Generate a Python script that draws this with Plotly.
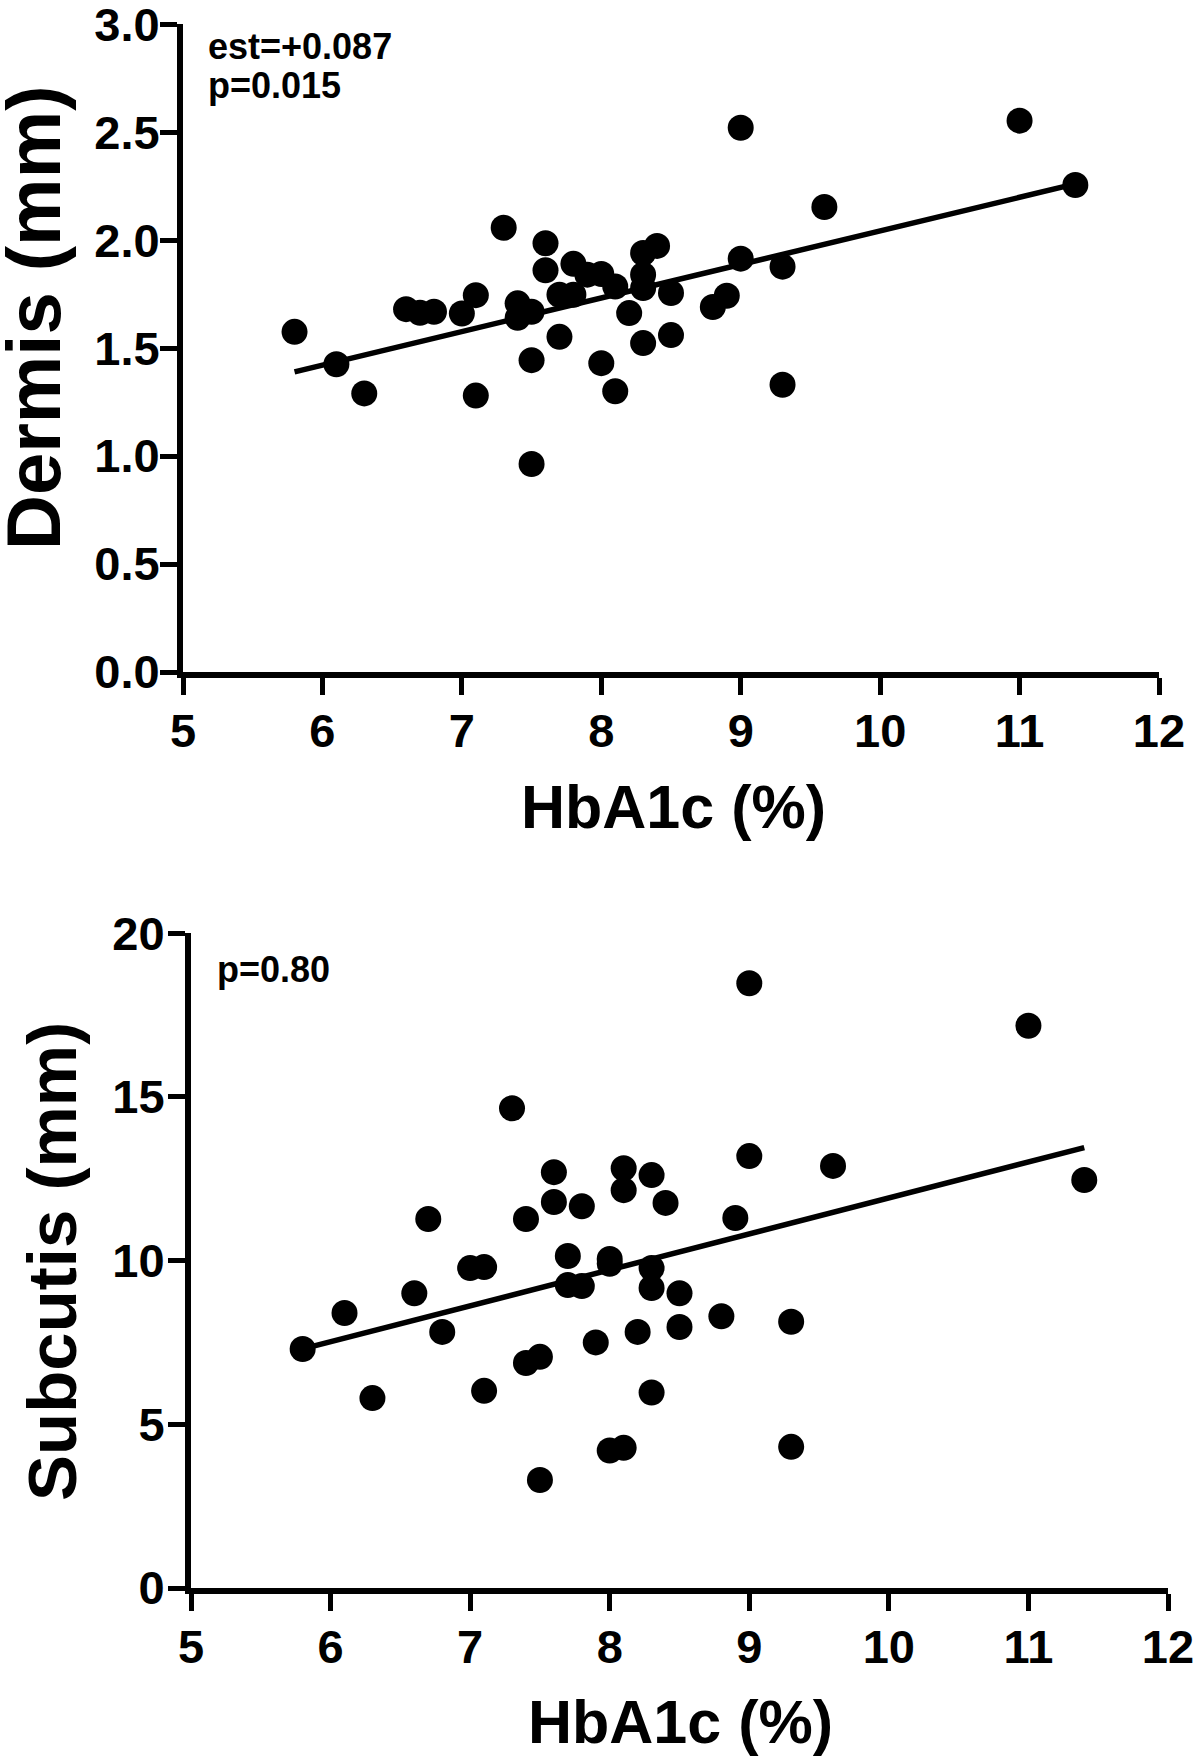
import plotly.graph_objects as go

# ---- Data ----
hba1c_top = [5.8, 6.1, 6.3, 6.6, 6.7, 6.8, 7.0, 7.1, 7.1, 7.3, 7.4, 7.4, 7.5, 7.5, 7.5,
             7.6, 7.6, 7.7, 7.7, 7.8, 7.8, 7.9, 8.0, 8.0, 8.1, 8.1, 8.2, 8.3, 8.3, 8.3,
             8.3, 8.4, 8.5, 8.5, 8.8, 8.9, 9.0, 9.0, 9.3, 9.3, 9.6, 11.0, 11.4]
dermis = [1.575, 1.425, 1.29, 1.68, 1.663, 1.668, 1.66, 1.745, 1.28, 2.057, 1.707, 1.64,
          1.668, 1.444, 0.963, 1.985, 1.86, 1.747, 1.552, 1.89, 1.747, 1.84, 1.843, 1.43,
          1.785, 1.30, 1.662, 1.94, 1.84, 1.778, 1.523, 1.973, 1.755, 1.56, 1.69, 1.742,
          2.52, 1.914, 1.877, 1.33, 2.153, 2.553, 2.255]
fit_top_x = [5.8, 11.4]
fit_top_y = [1.39, 2.26]

hba1c_bot = [5.8, 6.1, 6.3, 6.6, 6.7, 6.8, 7.0, 7.1, 7.1, 7.3, 7.4, 7.4, 7.5, 7.5,
             7.6, 7.6, 7.7, 7.7, 7.8, 7.8, 7.9, 8.0, 8.0, 8.0, 8.1, 8.1, 8.1, 8.2,
             8.3, 8.3, 8.3, 8.3, 8.4, 8.5, 8.5, 8.8, 8.9, 9.0, 9.0, 9.3, 9.3, 9.6,
             11.0, 11.4]
subcutis = [7.3, 8.4, 5.8, 9.0, 11.27, 7.82, 9.77, 9.8, 6.02, 14.65, 11.27, 6.87, 7.06, 3.3,
            12.7, 11.79, 10.14, 9.25, 11.66, 9.22, 7.5, 10.05, 9.9, 4.2, 12.82, 12.15, 4.28,
            7.82, 12.61, 9.77, 9.16, 5.97, 11.76, 9.0, 7.97, 8.3, 11.3, 18.47, 13.19, 8.13,
            4.31, 12.89, 17.17, 12.46]
fit_bot_x = [5.8, 11.4]
fit_bot_y = [7.3, 13.45]

x_ticks = [5, 6, 7, 8, 9, 10, 11, 12]
top_y_ticks = [0.0, 0.5, 1.0, 1.5, 2.0, 2.5, 3.0]
bot_y_ticks = [0, 5, 10, 15, 20]

W, H = 1200, 1758
FONT = "Liberation Sans, Arial, sans-serif"


def fx(px):
    return px / W


def fy(py):
    return 1 - py / H


fig = go.Figure()

marker = dict(color="black", size=26, line=dict(width=0))
fig.add_trace(go.Scatter(x=hba1c_top, y=dermis, mode="markers", marker=marker,
                         cliponaxis=False, xaxis="x", yaxis="y", showlegend=False,
                         hoverinfo="skip"))
fig.add_trace(go.Scatter(x=fit_top_x, y=fit_top_y, mode="lines",
                         line=dict(color="black", width=5.5),
                         cliponaxis=False, xaxis="x", yaxis="y", showlegend=False,
                         hoverinfo="skip"))
fig.add_trace(go.Scatter(x=hba1c_bot, y=subcutis, mode="markers", marker=marker,
                         cliponaxis=False, xaxis="x2", yaxis="y2", showlegend=False,
                         hoverinfo="skip"))
fig.add_trace(go.Scatter(x=fit_bot_x, y=fit_bot_y, mode="lines",
                         line=dict(color="black", width=5.5),
                         cliponaxis=False, xaxis="x2", yaxis="y2", showlegend=False,
                         hoverinfo="skip"))

tickfont = dict(family=FONT, size=47, color="black", weight="bold")
common = dict(showline=True, linecolor="black", linewidth=6, ticks="outside",
              ticklen=17, tickwidth=5, tickcolor="black", showgrid=False,
              zeroline=False, tickfont=tickfont, automargin=False, fixedrange=True,
              ticklabeloverflow="allow")

fig.update_layout(
    width=W, height=H,
    margin=dict(l=0, r=0, t=0, b=0),
    paper_bgcolor="white", plot_bgcolor="white",
    xaxis=dict(domain=[fx(183), fx(1159)], range=[5, 12], tickvals=x_ticks,
               anchor="y", ticklabelstandoff=-4, **common),
    yaxis=dict(domain=[fy(672), fy(24)], range=[0, 3.0005], tickvals=top_y_ticks,
               tickformat=".1f", anchor="x", ticklabelstandoff=-9, **common),
    xaxis2=dict(domain=[fx(191), fx(1168)], range=[5, 12], tickvals=x_ticks,
                anchor="y2", ticklabelstandoff=-4, **common),
    yaxis2=dict(domain=[fy(1588), fy(933)], range=[0, 20.003], tickvals=bot_y_ticks,
                anchor="x2", ticklabelstandoff=-6, **common),
)

title_font = dict(family=FONT, size=61, color="black", weight="bold")
note_font = dict(family=FONT, size=36, color="black", weight="bold")

annotations = [
    dict(text="HbA1c (%)", x=fx(673), y=fy(807), font=title_font,
         xanchor="center", yanchor="middle"),
    dict(text="HbA1c (%)", x=fx(680), y=fy(1722), font=title_font,
         xanchor="center", yanchor="middle"),
    dict(text="Dermis (mm)", x=fx(33), y=fy(318),
         font=dict(family=FONT, size=76, color="black", weight="bold"), textangle=-90,
         xanchor="center", yanchor="middle"),
    dict(text="Subcutis (mm)", x=fx(52), y=fy(1262),
         font=dict(family=FONT, size=69, color="black", weight="bold"), textangle=-90,
         xanchor="center", yanchor="middle"),
    dict(text="est=+0.087", x=fx(206), y=fy(46), font=note_font,
         xanchor="left", yanchor="middle"),
    dict(text="p=0.015", x=fx(206), y=fy(86), font=note_font,
         xanchor="left", yanchor="middle"),
    dict(text="p=0.80", x=fx(215), y=fy(969), font=note_font,
         xanchor="left", yanchor="middle"),
]
for a in annotations:
    a.update(xref="paper", yref="paper", showarrow=False)
fig.update_layout(annotations=annotations)

fig.write_html("out.html", config={"displayModeBar": False, "staticPlot": True},
               post_script="document.body.style.margin='0';document.body.style.overflow='hidden';")
